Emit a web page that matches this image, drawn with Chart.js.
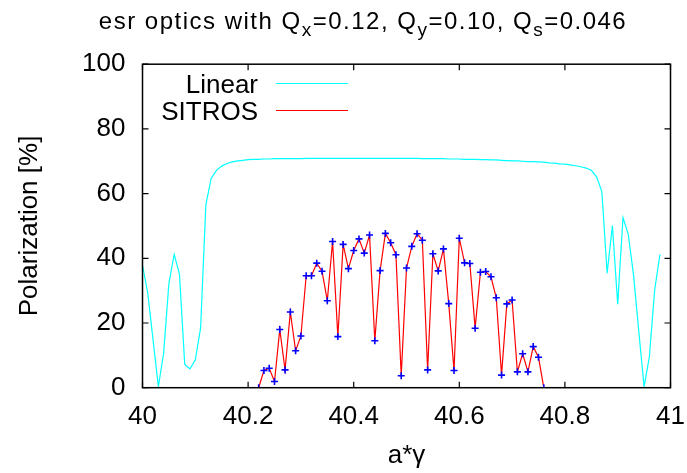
<!DOCTYPE html>
<html>
<head>
<meta charset="utf-8">
<script src="https://cdn.jsdelivr.net/npm/chart.js@4.4.1/dist/chart.umd.min.js"></script>
<style>
    html, body { margin: 0; padding: 0; background: #fff; }
    #wrap { width: 687px; height: 473px; }
</style>
</head>
<body>
<div id="wrap"><canvas id="polChart" width="687" height="473"></canvas></div>
<script>
// a*gamma values and polarization [%]
const linearX = [
    40.00, 40.01, 40.02, 40.03, 40.04, 40.05, 40.06, 40.07, 40.08, 40.09,
    40.10, 40.11, 40.12, 40.13, 40.14, 40.15, 40.16, 40.17, 40.18, 40.19,
    40.20, 40.21, 40.22, 40.23, 40.24, 40.25, 40.26, 40.27, 40.28, 40.29,
    40.30, 40.31, 40.32, 40.33, 40.34, 40.35, 40.36, 40.37, 40.38, 40.39,
    40.40, 40.41, 40.42, 40.43, 40.44, 40.45, 40.46, 40.47, 40.48, 40.49,
    40.50, 40.51, 40.52, 40.53, 40.54, 40.55, 40.56, 40.57, 40.58, 40.59,
    40.60, 40.61, 40.62, 40.63, 40.64, 40.65, 40.66, 40.67, 40.68, 40.69,
    40.70, 40.71, 40.72, 40.73, 40.74, 40.75, 40.76, 40.77, 40.78, 40.79,
    40.80, 40.81, 40.82, 40.83, 40.84, 40.85, 40.86, 40.87, 40.88, 40.89,
    40.90, 40.91, 40.92, 40.93, 40.94, 40.95, 40.96, 40.97, 40.98
];
const linearY = [
    37.9, 29.2, 14.8, 0.3, 10.6, 32.3, 41.2, 35.1, 7.2, 5.8,
    8.6, 18.4, 56.5, 64.7, 67.2, 68.5, 69.3, 69.8, 70.1, 70.3,
    70.5, 70.6, 70.6, 70.7, 70.7, 70.8, 70.8, 70.8, 70.8, 70.8,
    70.8, 70.9, 70.9, 70.9, 70.9, 70.9, 70.9, 70.9, 70.9, 70.9,
    70.9, 70.9, 70.9, 70.9, 70.9, 70.9, 70.9, 70.9, 70.9, 70.9,
    70.9, 70.9, 70.9, 70.8, 70.8, 70.8, 70.8, 70.8, 70.7, 70.7,
    70.7, 70.6, 70.6, 70.6, 70.5, 70.5, 70.4, 70.4, 70.3, 70.2,
    70.1, 70.1, 70.0, 69.9, 69.9, 69.8, 69.7, 69.5, 69.4, 69.2,
    69.1, 68.9, 68.6, 68.3, 67.9, 67.2, 65.2, 60.6, 35.4, 50.1,
    25.8, 52.6, 47.4, 34.8, 17.3, 0.3, 9.6, 30.2, 41.2
];
const sitrosX = [
    40.22, 40.23, 40.24, 40.25, 40.26, 40.27, 40.28, 40.29, 40.30, 40.31,
    40.32, 40.33, 40.34, 40.35, 40.36, 40.37, 40.38, 40.39, 40.40, 40.41,
    40.42, 40.43, 40.44, 40.45, 40.46, 40.47, 40.48, 40.49, 40.50, 40.51,
    40.52, 40.53, 40.54, 40.55, 40.56, 40.57, 40.58, 40.59, 40.60, 40.61,
    40.62, 40.63, 40.64, 40.65, 40.66, 40.67, 40.68, 40.69, 40.70, 40.71,
    40.72, 40.73, 40.74, 40.75, 40.76
];
const sitrosY = [
    0.0, 5.3, 6.0, 1.9, 18.0, 5.5, 23.4, 11.4, 16.0, 34.6,
    34.6, 38.5, 36.0, 26.9, 45.2, 15.8, 44.3, 36.8, 42.4, 46.0,
    41.6, 47.2, 14.5, 36.2, 47.7, 44.8, 41.1, 3.7, 37.0, 43.7,
    47.6, 45.6, 5.5, 41.4, 36.1, 42.9, 26.0, 5.3, 46.2, 38.6,
    38.4, 18.4, 35.7, 35.9, 34.3, 27.8, 3.9, 25.9, 27.1, 4.9,
    10.5, 4.9, 12.7, 9.4, 0.0
];
const xTickValues = [40, 40.2, 40.4, 40.6, 40.8, 41];
const xTickLabels = ['40', '40.2', '40.4', '40.6', '40.8', '41'];
const yTickValues = [0, 20, 40, 60, 80, 100];
const yTickLabels = ['0', '20', '40', '60', '80', '100'];

const FONT = "'Liberation Sans', Arial, Helvetica, sans-serif";

function toPoints(xs, ys) {
    return xs.map((x, i) => ({x: x, y: ys[i]}));
}

// gnuplot look: full border, inward ticks on all sides, key, title with subscripts
const gnuplotPlugin = {
    id: 'gnuplotLook',
    afterDraw(chart) {
        const ctx = chart.ctx;
        const a = chart.chartArea;
        const xs = chart.scales.x, ys = chart.scales.y;
        ctx.save();

        // ticks
        ctx.strokeStyle = '#000';
        ctx.lineWidth = 1.2;
        const tl = 6;
        ctx.beginPath();
        xTickValues.forEach(v => {
            const px = xs.getPixelForValue(v);
            ctx.moveTo(px, a.bottom); ctx.lineTo(px, a.bottom - tl);
            ctx.moveTo(px, a.top); ctx.lineTo(px, a.top + tl);
        });
        yTickValues.forEach(v => {
            const py = ys.getPixelForValue(v);
            ctx.moveTo(a.left, py); ctx.lineTo(a.left + tl, py);
            ctx.moveTo(a.right, py); ctx.lineTo(a.right - tl, py);
        });
        ctx.stroke();

        // border
        ctx.lineWidth = 1.5;
        ctx.strokeRect(a.left, a.top, a.right - a.left, a.bottom - a.top);

        // key
        ctx.font = '26px ' + FONT;
        ctx.fillStyle = '#000';
        ctx.textAlign = 'right';
        ctx.textBaseline = 'alphabetic';
        chart.data.datasets.forEach((ds, i) => {
            const yLine = 83.5 + i * 27;
            ctx.fillText(ds.label, 258, yLine + 9.5);
            ctx.strokeStyle = ds.borderColor;
            ctx.lineWidth = 1.2;
            ctx.beginPath();
            ctx.moveTo(276, yLine);
            ctx.lineTo(348, yLine);
            ctx.stroke();
        });

        // title
        const parts = [
            ['esr optics with Q', false], ['x', true], ['=0.12, Q', false],
            ['y', true], ['=0.10, Q', false], ['s', true], ['=0.046', false]
        ];
        const big = '24px ' + FONT, small = '19px ' + FONT;
        ctx.letterSpacing = '1.5px';
        let w = 0;
        parts.forEach(p => { ctx.font = p[1] ? small : big; w += ctx.measureText(p[0]).width; });
        let x = 363 - w / 2;
        ctx.textAlign = 'left';
        parts.forEach(p => {
            ctx.font = p[1] ? small : big;
            ctx.fillText(p[0], x, p[1] ? 35.5 : 29);
            x += ctx.measureText(p[0]).width;
        });
        ctx.restore();
    }
};

new Chart(document.getElementById('polChart'), {
    type: 'line',
    data: {
        datasets: [{
            label: 'Linear',
            data: toPoints(linearX, linearY),
            borderColor: '#00ffff',
            borderWidth: 1.2,
            pointRadius: 0,
            tension: 0
        }, {
            label: 'SITROS',
            data: toPoints(sitrosX, sitrosY),
            borderColor: '#ff0000',
            borderWidth: 1.2,
            pointStyle: 'cross',
            pointRadius: 3.5,
            pointBorderColor: '#0000ff',
            pointBorderWidth: 1.6,
            tension: 0
        }]
    },
    options: {
        responsive: false,
        animation: false,
        layout: {
            padding: {left: 0, right: 16.5, top: 64.2, bottom: 0}
        },
        plugins: {
            legend: {display: false},
            tooltip: {enabled: false}
        },
        scales: {
            x: {
                type: 'linear',
                min: 40,
                max: 41,
                afterBuildTicks: s => { s.ticks = xTickValues.map(v => ({value: v})); },
                afterFit: s => { s.height = 85.3; s.paddingLeft = 0; s.paddingRight = 0; },
                grid: {display: false, drawTicks: false},
                border: {display: false},
                ticks: {
                    padding: 14,
                    color: '#000',
                    font: {family: FONT, size: 26},
                    callback: (v, i) => xTickLabels[i]
                },
                title: {
                    display: true,
                    text: 'a*γ',
                    color: '#000',
                    font: {family: FONT, size: 26},
                    padding: {top: 0, bottom: 2}
                }
            },
            y: {
                min: 0,
                max: 100,
                afterBuildTicks: s => { s.ticks = yTickValues.map(v => ({value: v})); },
                afterFit: s => { s.width = 142.5; s.paddingTop = 0; s.paddingBottom = 0; },
                grid: {display: false, drawTicks: false},
                border: {display: false},
                ticks: {
                    padding: 17,
                    color: '#000',
                    font: {family: FONT, size: 26},
                    callback: (v, i) => yTickLabels[i]
                },
                title: {
                    display: true,
                    text: 'Polarization [%]',
                    color: '#000',
                    font: {family: FONT, size: 26},
                    padding: {top: 14.4, bottom: 0}
                }
            }
        }
    },
    plugins: [gnuplotPlugin]
});
</script>
</body>
</html>
